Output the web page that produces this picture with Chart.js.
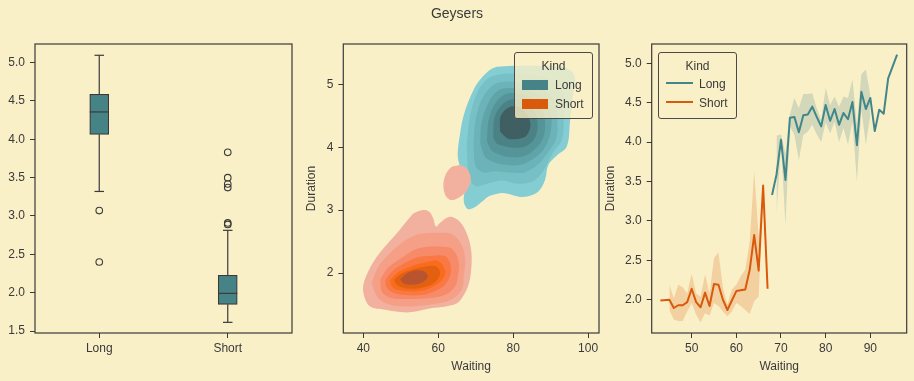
<!DOCTYPE html>
<html><head><meta charset="utf-8">
<script src="https://cdn.jsdelivr.net/npm/chart.js@4"></script>
<style>
html,body{margin:0;padding:0;background:#faf0c8;}
#wrap{position:relative;width:914px;height:381px;overflow:hidden;font-family:"Liberation Sans",Arial,sans-serif;color:#3a3a3a;}
canvas{position:absolute;top:0;}
#title{position:absolute;top:5px;left:0;width:914px;text-align:center;font-size:14px;line-height:16px;}
.legend{position:absolute;box-sizing:border-box;border:1px solid #4a4a4a;border-radius:3px;background:rgba(250,240,200,0.8);font-size:12px;line-height:14px;}
.legend div{position:absolute;}
</style>
</head><body>
<div id="wrap">
<canvas id="c1" width="300" height="381" style="left:0px"></canvas>
<canvas id="c2" width="310" height="381" style="left:300px"></canvas>
<canvas id="c3" width="314" height="381" style="left:600px"></canvas>
<div id="title">Geysers</div>
<div class="legend" style="left:514px;top:52px;width:79px;height:67px;">
  <div style="left:0;width:77px;top:6px;text-align:center;">Kind</div>
  <div style="left:7px;top:27px;width:26px;height:10px;background:#468386;"></div>
  <div style="left:40px;top:25px;">Long</div>
  <div style="left:7px;top:46px;width:26px;height:10px;background:#d9590d;"></div>
  <div style="left:40px;top:44px;">Short</div>
</div>
<div class="legend" style="left:658px;top:52px;width:79px;height:67px;">
  <div style="left:0;width:77px;top:6px;text-align:center;">Kind</div>
  <div style="left:7px;top:29px;width:27px;height:2px;background:#41868a;"></div>
  <div style="left:40px;top:24px;">Long</div>
  <div style="left:7px;top:48px;width:27px;height:2px;background:#d9590d;"></div>
  <div style="left:40px;top:43px;">Short</div>
</div>
</div>
<script>
// ---------- Panel 1: boxplot data ----------
const boxCategories = ['Long', 'Short'];
const boxQ1 = [4.065, 1.848];
const boxQ3 = [4.587, 2.226];
const boxMedian = [4.357, 1.991];
const whiskerLow = [3.32, 1.613];
const whiskerHigh = [5.096, 2.813];
const outliersLong = [3.07, 2.40];
const outliersShort = [3.83, 3.50, 3.417, 3.37, 2.91, 2.89];
const boxYTicks = [1.5, 2.0, 2.5, 3.0, 3.5, 4.0, 4.5, 5.0];

// ---------- Panel 2: KDE contour levels (Waiting, Duration) ----------
const longLevels = [
  [[65.4,4.06],[66.7,4.49],[69.4,4.91],[72.0,5.13],[74.7,5.26],[78.7,5.29],[84,5.3],[90,5.29],[93.9,5.27],[96.5,5.12],[95.8,4.75],[95.2,4.43],[94.3,4.01],[91.5,3.86],[89.4,3.72],[88.5,3.48],[86.8,3.3],[84.5,3.23],[81.8,3.21],[78.5,3.26],[76.5,3.27],[73.5,3.22],[72.0,3.15],[69.5,3.04],[67.8,3.02],[66.8,3.14],[67.1,3.38],[65.8,3.69],[65.2,3.85]],
  [[67.6,4.05],[68.5,4.5],[70.5,4.88],[73,5.08],[76,5.15],[80,5.17],[85,5.15],[90,5.08],[93.5,4.85],[93.5,4.45],[93.0,4.12],[90.5,3.9],[88,3.62],[85,3.45],[81,3.42],[77,3.47],[73,3.42],[70,3.38],[68.5,3.5],[67.8,3.75]],
  [[69.4,4.05],[70,4.45],[72,4.8],[75,5.0],[78,5.04],[82,5.03],[87,4.95],[91,4.72],[91.8,4.4],[91.4,4.12],[89.3,3.92],[86.5,3.72],[83,3.6],[79,3.6],[75,3.62],[72,3.6],[70,3.7]],
  [[71.2,4.05],[71.6,4.4],[73.5,4.72],[76,4.9],[79,4.94],[83,4.92],[87.5,4.8],[90,4.55],[90,4.25],[88.5,4.0],[85.5,3.82],[82,3.72],[78,3.72],[75,3.76],[72.5,3.85]],
  [[73,4.1],[73.4,4.42],[75,4.68],[77.5,4.83],[80.5,4.86],[84,4.8],[87.5,4.62],[88.5,4.4],[88,4.15],[86,3.98],[83,3.86],[79.5,3.84],[76.5,3.88],[74.2,3.95]],
  [[74.7,4.15],[74.9,4.45],[76.5,4.64],[79,4.75],[82,4.74],[85.3,4.6],[86.5,4.38],[85.8,4.15],[83.5,4.02],[80.5,3.99],[77.5,4.02],[75.6,4.06]],
  [[76.5,4.25],[76.6,4.48],[78,4.6],[80,4.65],[82.5,4.6],[84.3,4.45],[84.5,4.3],[83.3,4.17],[81,4.13],[78.5,4.14]]
];
const longLevelColors = ['#84ced3','#77c1c6','#6bb3b8','#5fa4a8','#559498','#4a8285','#3f5f62'];
const shortLevels = [
  [[53.4,2.95],[55.6,3.0],[57.5,2.98],[58.6,2.88],[59.4,2.74],[60.5,2.8],[62.3,2.88],[63.8,2.89],[66,2.8],[67.6,2.63],[68.7,2.4],[68.9,2.15],[68.2,1.84],[66.5,1.62],[65,1.52],[62,1.47],[58,1.44],[53,1.38],[49.8,1.38],[45.5,1.42],[41.8,1.47],[40.3,1.62],[40.0,1.81],[41.5,2.05],[43.6,2.26],[46.5,2.47],[48.9,2.63],[51.5,2.82]],
  [[42.2,1.84],[44,2.1],[46.5,2.28],[49,2.42],[52,2.55],[55.6,2.63],[60,2.64],[63.6,2.62],[66.2,2.45],[67.2,2.21],[66.8,1.95],[66.3,1.74],[63.5,1.58],[60,1.52],[55,1.48],[51.1,1.47],[47,1.5],[44,1.6]],
  [[44.5,1.89],[46.5,2.08],[50.2,2.24],[54,2.38],[57.4,2.42],[61,2.42],[63.6,2.39],[65.4,2.2],[65.4,2.0],[64.5,1.79],[62,1.66],[57.4,1.6],[52,1.59],[47.6,1.6],[45,1.7]],
  [[45.9,1.89],[48,2.04],[51.1,2.16],[54.5,2.25],[57.4,2.27],[61.8,2.27],[63.3,2.12],[63.1,1.95],[61.4,1.79],[58.5,1.7],[55.6,1.65],[51,1.65],[47.6,1.7],[46.2,1.78]],
  [[47.2,1.89],[49.5,2.02],[52.9,2.11],[56.5,2.17],[60,2.19],[61.8,2.05],[61.4,1.92],[59.1,1.8],[55.5,1.72],[52,1.71],[48.8,1.74],[47.5,1.8]],
  [[48.3,1.9],[50.5,2.0],[53.8,2.07],[57,2.11],[59.6,2.1],[60.5,1.98],[59.2,1.86],[56.5,1.78],[53,1.75],[50,1.78],[48.6,1.84]],
  [[49.8,1.9],[51.5,1.99],[53.8,2.04],[56.2,2.03],[57.2,1.95],[56,1.86],[53.5,1.82],[51,1.83]]
];
const shortBlob = [[65.8,3.72],[67.6,3.66],[68.7,3.51],[68.1,3.36],[66.7,3.25],[63.6,3.16],[61.8,3.25],[61.5,3.48],[63.2,3.67]];
const shortLevelColors = ['#f2b09f','#f59f86','#f78a69','#f97844','#f96c1c','#e2600f','#b85430'];
const kdeXTicks = [40, 60, 80, 100];
const kdeYTicks = [2, 3, 4, 5];

// ---------- Panel 3: mean duration by waiting ----------
const shortWaiting = [43,45,46,47,48,49,50,51,52,53,54,55,56,57,58,59,60,61,62,63,64,65,66,67];
const shortMean = [1.99,2.00,1.895,1.93,1.93,1.97,2.14,1.97,1.905,2.09,1.92,2.20,2.19,2.00,1.87,1.99,2.11,2.12,2.13,2.38,2.82,2.37,3.45,2.14];
const shortLo = [null,1.87,1.75,1.73,1.73,1.85,1.96,1.81,1.71,1.83,1.80,1.96,1.92,1.85,1.79,1.85,1.96,1.92,1.87,1.82,1.98,2.04,3.40,null];
const shortHi = [null,2.19,2.02,2.19,2.16,2.08,2.33,2.08,2.04,2.32,2.08,2.53,2.60,2.15,1.94,2.13,2.19,2.30,2.38,2.74,3.63,2.80,3.50,null];
const longWaiting = [68,69,70,71,72,73,74,75,76,77,78,79,80,81,82,83,84,85,86,87,88,89,90,91,92,93,94,96];
const longMean = [3.33,3.59,4.03,3.52,4.31,4.32,4.125,4.34,4.35,4.45,4.32,4.20,4.47,4.27,4.42,4.22,4.37,4.29,4.51,3.96,4.64,4.42,4.56,4.14,4.41,4.36,4.81,5.11];
const longLo = [null,3.08,3.97,2.95,4.20,4.09,3.77,4.09,4.13,4.22,4.10,4.00,4.25,4.11,4.26,4.00,4.18,3.97,4.26,3.50,4.41,3.97,4.34,null,null,null,null,null];
const longHi = [null,4.08,4.10,3.85,4.35,4.56,4.43,4.61,4.61,4.62,4.43,4.28,4.69,4.47,4.58,4.45,4.58,4.56,4.80,4.22,4.86,4.92,4.60,null,null,null,null,null];
const lineXTicks = [50, 60, 70, 80, 90];
const lineYTicks = [2.0, 2.5, 3.0, 3.5, 4.0, 4.5, 5.0];

// ---------- styles ----------
const TEAL = '#468386', TEAL_LINE = '#41868a', ORANGE = '#d9590d';
const INK = '#3a3a3a';
const FONT = {family: '"Liberation Sans", Arial, sans-serif', size: 12, lineHeight: 1.2};

const framePlugin = {
  id: 'frame',
  afterDraw(chart) {
    const a = chart.chartArea, ctx = chart.ctx;
    ctx.save(); ctx.strokeStyle = INK; ctx.lineWidth = 1.2;
    ctx.strokeRect(a.left, a.top, a.right - a.left, a.bottom - a.top);
    ctx.restore();
  }
};

function axis(extra) {
  return Object.assign({
    border: {display: false},
    grid: {drawOnChartArea: false, drawTicks: true, tickLength: 5, tickColor: INK, tickWidth: 1, color: INK, offset: false},
    ticks: {color: INK, font: FONT, padding: 4}
  }, extra);
}
function fixTicks(list) { return s => { s.ticks = list.map(v => ({value: v})); }; }
const pts = (xs, ys) => xs.map((x, i) => ({x: x, y: ys[i]}));
const poly = p => p.concat([p[0]]).map(q => ({x: q[0], y: q[1]}));

Chart.defaults.font.family = FONT.family;

// ---------- Panel 1 ----------
const boxPlugin = {
  id: 'boxWhiskers',
  afterDatasetsDraw(chart) {
    const ctx = chart.ctx, y = chart.scales.y;
    const meta = chart.getDatasetMeta(1);
    ctx.save(); ctx.strokeStyle = INK; ctx.lineWidth = 1.2;
    boxCategories.forEach((c, i) => {
      const bar = meta.data[i];
      const cx = bar.x, hw = bar.width / 2;
      const seg = (x1, y1, x2, y2) => { ctx.beginPath(); ctx.moveTo(x1, y1); ctx.lineTo(x2, y2); ctx.stroke(); };
      const yq1 = y.getPixelForValue(boxQ1[i]), yq3 = y.getPixelForValue(boxQ3[i]);
      const ylo = y.getPixelForValue(whiskerLow[i]), yhi = y.getPixelForValue(whiskerHigh[i]);
      const ym = y.getPixelForValue(boxMedian[i]);
      seg(cx, yq3, cx, yhi); seg(cx, yq1, cx, ylo);
      seg(cx - hw / 2, yhi, cx + hw / 2, yhi); seg(cx - hw / 2, ylo, cx + hw / 2, ylo);
      seg(cx - hw, ym, cx + hw, ym);
    });
    ctx.restore();
  }
};

new Chart(document.getElementById('c1'), {
  type: 'bar',
  data: {
    labels: boxCategories,
    datasets: [
      {type: 'line', showLine: false, data: outliersLong.map(v => ({x: 'Long', y: v})).concat(outliersShort.map(v => ({x: 'Short', y: v}))),
       pointRadius: 3.3, pointBorderWidth: 1.1, pointBorderColor: INK, pointBackgroundColor: 'rgba(0,0,0,0)', order: 0},
      {data: boxCategories.map((c, i) => [boxQ1[i], boxQ3[i]]), backgroundColor: TEAL, borderColor: INK, borderWidth: 1.2,
       borderSkipped: false, barThickness: 19, order: 1}
    ]
  },
  options: {
    responsive: false, animation: false, events: [],
    layout: {padding: {top: 44, right: 8, left: 0, bottom: 0}},
    plugins: {legend: {display: false}, tooltip: {enabled: false}},
    scales: {
      x: axis({type: 'category', offset: true, afterFit: s => { s.height = 48; }, ticks: {color: INK, font: FONT, padding: 3}}),
      y: axis({type: 'linear', min: 1.474, max: 5.243, afterFit: s => { s.width = 35; }, afterBuildTicks: fixTicks(boxYTicks),
        ticks: {color: INK, font: FONT, padding: 5, callback: v => v.toFixed(1)}})
    }
  },
  plugins: [boxPlugin, framePlugin]
});

// ---------- Panel 2 ----------
const kdeSets = [];
longLevels.forEach((p, i) => kdeSets.push({data: poly(p), backgroundColor: longLevelColors[i]}));
kdeSets.push({data: poly(shortBlob), backgroundColor: shortLevelColors[0]});
shortLevels.forEach((p, i) => kdeSets.push({data: poly(p), backgroundColor: shortLevelColors[i]}));
const kdeDatasets = kdeSets.reverse().map(d => Object.assign(d, {
  fill: 'shape', borderWidth: 0, borderColor: 'rgba(0,0,0,0)', pointRadius: 0, tension: 0.35
}));

new Chart(document.getElementById('c2'), {
  type: 'line',
  data: {datasets: kdeDatasets},
  options: {
    responsive: false, animation: false, events: [],
    layout: {padding: {top: 44, right: 11, left: 0, bottom: 0}},
    plugins: {legend: {display: false}, tooltip: {enabled: false}},
    scales: {
      x: axis({type: 'linear', min: 34.66, max: 102.9, afterFit: s => { s.height = 48; }, afterBuildTicks: fixTicks(kdeXTicks),
        ticks: {color: INK, font: FONT, padding: 3},
        title: {display: true, text: 'Waiting', color: INK, font: FONT, padding: {top: 0, bottom: 7}}}),
      y: axis({type: 'linear', min: 1.048, max: 5.64, afterFit: s => { s.width = 43.3; }, afterBuildTicks: fixTicks(kdeYTicks),
        ticks: {color: INK, font: FONT, padding: 5},
        title: {display: true, text: 'Duration', color: INK, font: FONT, padding: {top: 4, bottom: 0}}})
    }
  },
  plugins: [framePlugin]
});

// ---------- Panel 3 ----------
const lineBase = {pointRadius: 0, tension: 0};
new Chart(document.getElementById('c3'), {
  type: 'line',
  data: {datasets: [
    Object.assign({data: pts(longWaiting, longMean), borderColor: TEAL_LINE, borderWidth: 2, fill: false, borderJoinStyle: 'round'}, lineBase),
    Object.assign({data: pts(shortWaiting, shortMean), borderColor: ORANGE, borderWidth: 2, fill: false, borderJoinStyle: 'round'}, lineBase),
    Object.assign({data: pts(longWaiting, longHi), borderWidth: 0, borderColor: 'rgba(0,0,0,0)', backgroundColor: 'rgba(70,130,133,0.22)', fill: '+1'}, lineBase),
    Object.assign({data: pts(longWaiting, longLo), borderWidth: 0, borderColor: 'rgba(0,0,0,0)', fill: false}, lineBase),
    Object.assign({data: pts(shortWaiting, shortHi), borderWidth: 0, borderColor: 'rgba(0,0,0,0)', backgroundColor: 'rgba(217,89,13,0.21)', fill: '+1'}, lineBase),
    Object.assign({data: pts(shortWaiting, shortLo), borderWidth: 0, borderColor: 'rgba(0,0,0,0)', fill: false}, lineBase)
  ]},
  options: {
    responsive: false, animation: false, events: [],
    layout: {padding: {top: 44, right: 7.3, left: 0, bottom: 0}},
    plugins: {legend: {display: false}, tooltip: {enabled: false}},
    scales: {
      x: axis({type: 'linear', min: 41.05, max: 98.15, afterFit: s => { s.height = 48; }, afterBuildTicks: fixTicks(lineXTicks),
        ticks: {color: INK, font: FONT, padding: 3},
        title: {display: true, text: 'Waiting', color: INK, font: FONT, padding: {top: 0, bottom: 7}}}),
      y: axis({type: 'linear', min: 1.578, max: 5.245, afterFit: s => { s.width = 51.7; }, afterBuildTicks: fixTicks(lineYTicks),
        ticks: {color: INK, font: FONT, padding: 5, callback: v => v.toFixed(1)},
        title: {display: true, text: 'Duration', color: INK, font: FONT, padding: {top: 3, bottom: 0}}})
    }
  },
  plugins: [framePlugin]
});
</script>
</body></html>
